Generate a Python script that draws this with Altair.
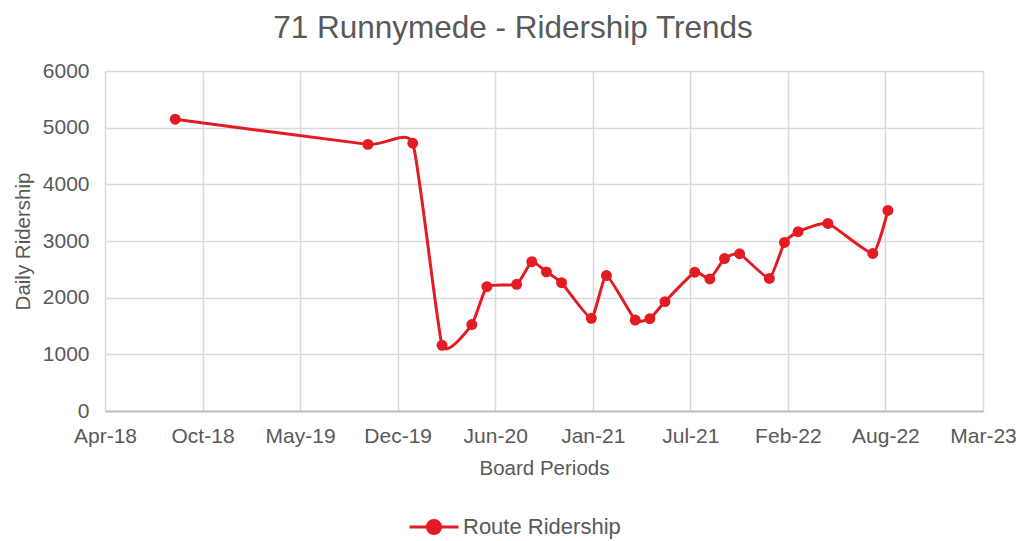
import altair as alt
import pandas as pd

# ---- data ----
dates = ["2018-09-01", "2019-10-01", "2020-01-01", "2020-03-01", "2020-05-01",
         "2020-06-01", "2020-08-01", "2020-09-01", "2020-10-01", "2020-11-01",
         "2021-01-01", "2021-02-01", "2021-04-01", "2021-05-01", "2021-06-01",
         "2021-08-01", "2021-09-01", "2021-10-01", "2021-11-01", "2022-01-01",
         "2022-02-01", "2022-03-01", "2022-05-01", "2022-08-01", "2022-09-01"]
ridership = [5150, 4705, 4725, 1160, 1525,
             2195, 2235, 2635, 2455, 2265,
             1635, 2390, 1605, 1630, 1930,
             2450, 2330, 2690, 2775, 2340,
             2975, 3165, 3310, 2780, 3540]
series_name = "Route Ridership"

# axis: Excel-style date axis, min 2018-04-10, major unit 200 days
x_ticks = ["2018-04-10", "2018-10-27", "2019-05-15", "2019-12-01", "2020-06-18",
           "2021-01-04", "2021-07-23", "2022-02-08", "2022-08-27", "2023-03-15"]
y_ticks = [0, 1000, 2000, 3000, 4000, 5000, 6000]

df = pd.DataFrame({"date": dates, "value": ridership, "series": series_name})

def dt(s):
    y, m, d = (int(v) for v in s.split("-"))
    return alt.DateTime(year=y, month=m, date=d, utc=True)

FONT = "Liberation Sans"
GRAY = "#595959"
RED = "#E31B23"

# legend symbol: short line with a dot in the middle
legend_symbol = ("M -1 0 L 1 0 "
                 "M -0.27 0 A 0.27 0.27 0 1 1 0.27 0 A 0.27 0.27 0 1 1 -0.27 0 Z")

x_enc = alt.X(
    "date:T",
    scale=alt.Scale(type="utc", domain=[dt(x_ticks[0]), dt(x_ticks[-1])], nice=False),
    axis=alt.Axis(
        title="Board Periods",
        values=[dt(t) for t in x_ticks],
        labelExpr="utcFormat(datum.value, '%b-%y')",
        labelFlush=False,
        labelOverlap=False,
        labelFontSize=21,
        labelColor=GRAY,
        labelFont=FONT,
        labelPadding=14,
        titleFont=FONT,
        titleFontSize=20.5,
        titleFontWeight="normal",
        titleColor=GRAY,
        titlePadding=12,
        grid=True,
        gridColor="#d9d9d9",
        gridWidth=1.5,
        ticks=False,
        domain=True,
        domainColor="#bfbfbf",
        domainWidth=2,
    ),
)
y_enc = alt.Y(
    "value:Q",
    scale=alt.Scale(domain=[0, 6000], nice=False),
    axis=alt.Axis(
        title="Daily Ridership",
        values=y_ticks,
        format="d",
        labelFontSize=21,
        labelColor=GRAY,
        labelFont=FONT,
        labelPadding=16,
        titleFont=FONT,
        titleFontSize=20.5,
        titleFontWeight="normal",
        titleColor=GRAY,
        titlePadding=9,
        grid=True,
        gridColor="#d9d9d9",
        gridWidth=1.5,
        ticks=False,
        domain=False,
    ),
)
color_enc = alt.Color(
    "series:N",
    scale=alt.Scale(domain=[series_name], range=[RED]),
    legend=alt.Legend(
        title=None,
        orient="none",
        legendX=303,
        legendY=430,
        symbolType=legend_symbol,
        symbolSize=2401,
        symbolStrokeWidth=3,
        symbolFillColor=RED,
        symbolStrokeColor=RED,
        labelFontSize=22,
        labelFont=FONT,
        labelColor=GRAY,
        labelOffset=3,
    ),
)

line = alt.Chart(df).mark_line(interpolate="cardinal", tension=0.55, strokeWidth=3).encode(
    x=x_enc, y=y_enc, color=color_enc
)
points = alt.Chart(df).mark_point(filled=True, size=120, opacity=1).encode(
    x=x_enc, y=y_enc,
    color=alt.Color("series:N", scale=alt.Scale(domain=[series_name], range=[RED]), legend=None),
)

chart = (
    alt.layer(line, points)
    .properties(
        width=878,
        height=340,
        title=alt.TitleParams(
            "71 Runnymede - Ridership Trends",
            font=FONT,
            fontSize=31.5,
            fontWeight="normal",
            color=GRAY,
            anchor="middle",
            dx=-31,
            offset=16,
        ),
        autosize=alt.AutoSizeParams(type="none"),
        padding={"left": 97, "top": 63, "right": 33, "bottom": 131},
    )
    .configure_view(stroke=None)
    .configure(background="white")
)

chart.save("out.html", embed_options={"renderer": "svg", "actions": False})
